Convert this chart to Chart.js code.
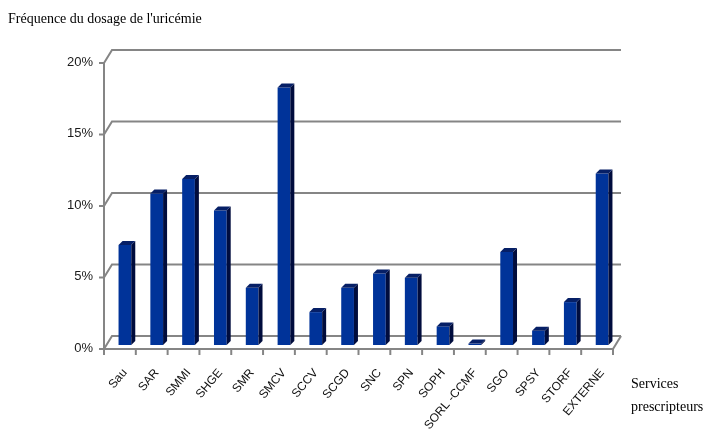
<!DOCTYPE html>
<html>
<head>
<meta charset="utf-8">
<script src="https://cdn.jsdelivr.net/npm/chart.js@4.4.0/dist/chart.umd.min.js"></script>
<style>
  body { margin: 0; background: #fff; }
  #wrap { position: relative; width: 706px; height: 445px; }
  .txt { position: absolute; font-family: "Liberation Serif", serif; font-size: 14px; color: #000; white-space: nowrap; }
</style>
</head>
<body>
<div id="wrap">
  <canvas id="chart" width="706" height="445"></canvas>
  <div class="txt" style="left:8px; top:11px;">Fréquence du dosage de l'uricémie</div>
  <div class="txt" style="left:631px; top:372px; line-height:23px;">Services<br>prescripteurs</div>
</div>
<script>
const services = ['Sau', 'SAR', 'SMMI', 'SHGE', 'SMR', 'SMCV', 'SCCV', 'SCGD', 'SNC', 'SPN',
  'SOPH', 'SORL -CCMF', 'SGO', 'SPSY', 'STORF', 'EXTERNE'];
const frequences = [7, 10.6, 11.6, 9.4, 4, 18, 2.3, 4, 5, 4.7, 1.3, 0.1, 6.5, 1, 3, 12];
const yTicks = [0, 5, 10, 15, 20];

// fake 3d : offsets of the front plane / back wall relative to the bars' plane
const FRONT = { dx: -5, dy: 4 };
const BACK = { dx: 3, dy: -9 };
const DEPTH = { dx: 4, dy: -4 };

function line(ctx, x1, y1, x2, y2) {
  ctx.beginPath();
  ctx.moveTo(x1, y1);
  ctx.lineTo(x2, y2);
  ctx.stroke();
}

const wall3d = {
  id: 'wall3d',
  beforeDatasetsDraw(chart) {
    const { ctx, chartArea: a, scales: { x, y } } = chart;
    ctx.save();
    ctx.strokeStyle = '#858585';
    ctx.lineWidth = 2;
    yTicks.forEach(v => {
      const py = y.getPixelForValue(v);
      ctx.beginPath();
      ctx.moveTo(a.left + FRONT.dx, py + FRONT.dy);
      ctx.lineTo(a.left + BACK.dx, py + BACK.dy);
      ctx.lineTo(a.right + BACK.dx, py + BACK.dy);
      ctx.stroke();
      line(ctx, a.left + FRONT.dx - 5, py + FRONT.dy, a.left + FRONT.dx, py + FRONT.dy);
    });
    const y0 = y.getPixelForValue(0);
    const yTop = y.getPixelForValue(20);
    // front axis
    line(ctx, a.left + FRONT.dx, yTop + FRONT.dy, a.left + FRONT.dx, y0 + FRONT.dy);
    // floor
    line(ctx, a.left + FRONT.dx, y0 + FRONT.dy, a.right + FRONT.dx, y0 + FRONT.dy);
    line(ctx, a.right + FRONT.dx, y0 + FRONT.dy, a.right + BACK.dx, y0 + BACK.dy);
    // category ticks under the floor
    const w = (x.right - x.left) / services.length;
    for (let i = 0; i <= services.length; i++) {
      const bx = x.left + i * w + FRONT.dx;
      line(ctx, bx, y0 + FRONT.dy, bx, y0 + FRONT.dy + 6);
    }
    ctx.restore();
  },
  afterDatasetsDraw(chart) {
    const ctx = chart.ctx;
    const meta = chart.getDatasetMeta(0);
    ctx.save();
    meta.data.forEach(bar => {
      const p = bar.getProps(['x', 'y', 'base', 'width'], true);
      const l = p.x - p.width / 2, r = p.x + p.width / 2;
      // side
      ctx.fillStyle = '#000c3d';
      ctx.beginPath();
      ctx.moveTo(r, p.y);
      ctx.lineTo(r + DEPTH.dx, p.y + DEPTH.dy);
      ctx.lineTo(r + DEPTH.dx, p.base + DEPTH.dy);
      ctx.lineTo(r, p.base);
      ctx.closePath();
      ctx.fill();
      // top
      ctx.fillStyle = '#061f66';
      ctx.beginPath();
      ctx.moveTo(l, p.y);
      ctx.lineTo(l + DEPTH.dx, p.y + DEPTH.dy);
      ctx.lineTo(r + DEPTH.dx, p.y + DEPTH.dy);
      ctx.lineTo(r, p.y);
      ctx.closePath();
      ctx.fill();
    });
    ctx.restore();
  }
};

new Chart(document.getElementById('chart'), {
  type: 'bar',
  data: {
    labels: services,
    datasets: [{
      data: frequences,
      backgroundColor: '#003399',
      borderWidth: 0,
      barPercentage: 0.4,
      categoryPercentage: 1
    }]
  },
  plugins: [wall3d],
  options: {
    responsive: false,
    animation: false,
    layout: { padding: { top: 59, right: 88, left: 0, bottom: 0 } },
    plugins: { legend: { display: false }, tooltip: { enabled: false } },
    scales: {
      x: {
        grid: { display: false, drawTicks: false },
        border: { display: false },
        ticks: {
          minRotation: 50,
          maxRotation: 50,
          padding: 21,
          color: '#111',
          font: { family: 'Liberation Sans', size: 12 }
        },
        afterFit(scale) { scale.height = 100; }
      },
      y: {
        min: 0,
        max: 20,
        grid: { display: false, drawTicks: false },
        border: { display: false },
        ticks: {
          stepSize: 5,
          padding: 16,
          labelOffset: 3,
          color: '#1a1a1a',
          font: { family: 'Liberation Sans', size: 13 },
          callback: v => v + '%'
        },
        afterFit(scale) { scale.width = 109; }
      }
    }
  }
});
</script>
</body>
</html>
